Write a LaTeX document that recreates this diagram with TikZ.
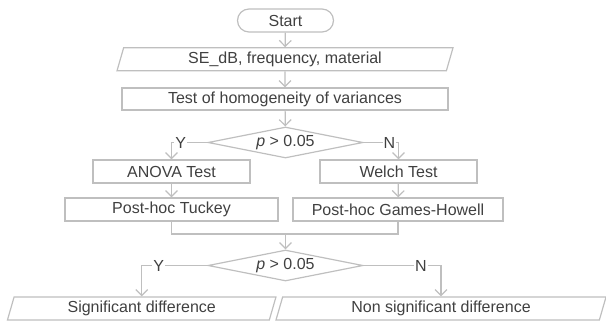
\documentclass[tikz,border=0pt]{standalone}
\usepackage{fontspec}
\setmainfont{Liberation Sans}
\usetikzlibrary{shapes.geometric,arrows.meta}
\definecolor{linegray}{HTML}{BFBFBF}
\definecolor{textgray}{HTML}{404040}

\begin{document}
\begin{tikzpicture}[x=1pt,y=1pt,
        every node/.style={inner sep=0pt,text=textgray,font=\fontsize{16}{19}\selectfont},
        box/.style={draw=linegray,line width=1.2pt,rectangle,minimum height=23pt},
        startbox/.style={box,rounded corners=11.5pt,minimum width=96pt},
        io/.style={draw=linegray,line width=1.2pt,trapezium,trapezium left angle=66,
            trapezium right angle=114,trapezium stretches body,minimum height=23pt},
        test/.style={draw=linegray,line width=1.2pt,diamond,aspect=5,minimum width=155pt,minimum height=31pt},
        arr/.style={draw=linegray,line width=1.2pt,-{Straight Barb[length=6pt,width=12pt]}},
        con/.style={draw=linegray,line width=1.2pt},
        lbl/.style={fill=white,inner sep=1pt}]
        \useasboundingbox (0,0) rectangle (606,-322);
        \node [startbox] (start) at (285.5,-20.5) {Start};
        \node [io,minimum width=336pt] (input) at (285,-59.3) {SE\_dB, frequency, material};
        \node [box,minimum width=326pt,minimum height=22pt] (homog) at (285,-99) {Test of homogeneity of variances};
        \node [test] (d1) at (285.5,-142.5) {\textit{p} > 0.05};
        \node [box,minimum width=157pt] (anova) at (171.5,-171.5) {ANOVA Test};
        \node [box,minimum width=157pt] (welch) at (398.5,-171.5) {Welch Test};
        \node [box,minimum width=213pt] (tuckey) at (171.5,-209.5) {Post-hoc Tuckey};
        \node [box,minimum width=210pt] (games) at (398,-209.5) {Post-hoc Games-Howell};
        \coordinate (join) at (285.5,-234);
        \node [test] (d2) at (285.5,-265.5) {\textit{p} > 0.05};
        \node [io,minimum width=268.5pt] (sig) at (141.7,-308.5) {Significant difference};
        \node [io,minimum width=330pt] (nonsig) at (441,-308.5) {Non significant difference};
        \draw [arr] (start) -- (input);
        \draw [arr] (input) -- (homog);
        \draw [arr] (homog) -- (d1);
        \draw [arr] (d1.west) -| node [lbl,pos=0.37] {Y} (anova.north);
        \draw [arr] (d1.east) -| node [lbl,pos=0.37] {N} (welch.north);
        \draw [arr] (anova) -- (tuckey);
        \draw [arr] (welch) -- (games);
        \draw [con] (tuckey.south) |- (join) -| (games.south);
        \draw [arr] (join) -- (d2.north);
        \draw [arr] (d2.west) -| node [lbl,pos=0.37] {Y} (sig.north);
        \draw [arr] (d2.east) -| node [lbl,pos=0.37] {N} (nonsig.north);
    \end{tikzpicture}
\end{document}
